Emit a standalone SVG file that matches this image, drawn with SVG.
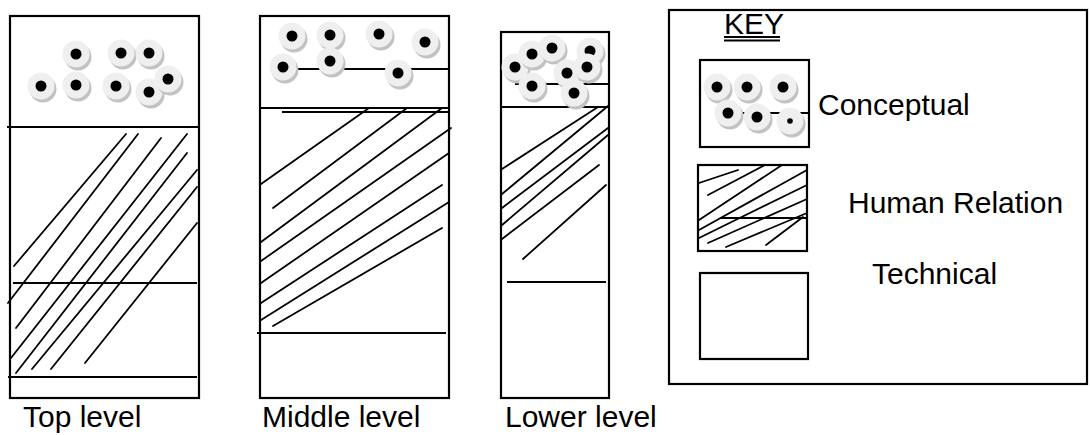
<svg xmlns="http://www.w3.org/2000/svg" width="1090" height="435" viewBox="0 0 1090 435">
  <style>
    .frame { fill: none; stroke: #000; stroke-width: 2.2; }
    .rule { stroke: #000; stroke-width: 1.8; fill: none; }
    .hatch { stroke: #000; stroke-width: 1.8; fill: none; stroke-linecap: round; }
    .label { font-family: "Liberation Sans", Arial, sans-serif; font-size: 30px; fill: #000; }
    .shadow { fill: #c2c2c2; }
    .disc { fill: #efefef; }
    .dot { fill: #000; }
  </style>
  <defs>
    <!-- one "concept" bead: grey shadow, pale disc, black centre -->
    <g id="bead">
      <circle class="shadow" cx="2" cy="3" r="13.5"/>
      <circle class="disc" cx="0" cy="0" r="13.5"/>
      <circle class="dot" cx="0" cy="0" r="5.5"/>
    </g>
    <g id="bead-small">
      <circle class="shadow" cx="2" cy="3" r="13.5"/>
      <circle class="disc" cx="0" cy="0" r="13.5"/>
      <circle class="dot" cx="0" cy="0" r="2.8"/>
    </g>
  </defs>

  <rect width="1090" height="435" fill="#fff"/>

  <!-- Top level column -->
  <g id="top-level">
    <rect class="frame" x="10" y="16" width="189" height="382"/>
    <line class="rule" x1="7" y1="127" x2="199" y2="127"/>
    <line class="rule" x1="13" y1="283" x2="197" y2="283"/>
    <line class="rule" x1="8" y1="377" x2="197" y2="377"/>
    <g class="hatch">
      <line x1="14" y1="266" x2="126" y2="134"/>
      <line x1="8" y1="303" x2="138" y2="134"/>
      <line x1="16" y1="328" x2="161" y2="138"/>
      <line x1="11" y1="358" x2="187" y2="134"/>
      <line x1="16" y1="373" x2="187" y2="153"/>
      <line x1="32" y1="369" x2="197" y2="170"/>
      <line x1="51" y1="369" x2="197" y2="187"/>
      <line x1="85" y1="363" x2="197" y2="223"/>
    </g>
    <use href="#bead" x="76" y="54"/>
    <use href="#bead" x="121" y="53"/>
    <use href="#bead" x="149" y="53"/>
    <use href="#bead" x="41" y="86"/>
    <use href="#bead" x="76" y="85"/>
    <use href="#bead" x="116" y="86"/>
    <use href="#bead" x="149" y="92"/>
    <use href="#bead" x="168" y="79"/>
    <text class="label" x="23" y="427">Top level</text>
  </g>

  <!-- Middle level column -->
  <g id="middle-level">
    <rect class="frame" x="260" y="16" width="189" height="382"/>
    <line class="rule" x1="283" y1="69" x2="449" y2="69"/>
    <line class="rule" x1="260" y1="108" x2="449" y2="108"/>
    <line class="rule" x1="282" y1="112" x2="449" y2="112"/>
    <line class="rule" x1="257" y1="333" x2="446" y2="333"/>
    <g class="hatch">
      <line x1="261" y1="184" x2="369" y2="108"/>
      <line x1="273" y1="208" x2="407" y2="108"/>
      <line x1="261" y1="242" x2="442" y2="108"/>
      <line x1="261" y1="261" x2="451" y2="128"/>
      <line x1="261" y1="283" x2="449" y2="153"/>
      <line x1="261" y1="303" x2="442" y2="185"/>
      <line x1="261" y1="320" x2="449" y2="202"/>
      <line x1="273" y1="326" x2="442" y2="228"/>
    </g>
    <use href="#bead" x="292" y="36"/>
    <use href="#bead" x="330" y="35"/>
    <use href="#bead" x="379" y="34"/>
    <use href="#bead" x="425" y="42"/>
    <use href="#bead" x="283" y="67"/>
    <use href="#bead" x="330" y="61"/>
    <use href="#bead" x="398" y="73"/>
    <text class="label" x="262" y="427">Middle level</text>
  </g>

  <!-- Lower level column -->
  <g id="lower-level">
    <rect class="frame" x="501" y="32" width="108" height="366"/>
    <line class="rule" x1="515" y1="84" x2="609" y2="84"/>
    <line class="rule" x1="501" y1="107" x2="609" y2="107"/>
    <line class="rule" x1="507" y1="282" x2="606" y2="282"/>
    <g class="hatch">
      <line x1="502" y1="169" x2="598" y2="107"/>
      <line x1="502" y1="194" x2="608" y2="106"/>
      <line x1="502" y1="208" x2="608" y2="128"/>
      <line x1="502" y1="225" x2="608" y2="135"/>
      <line x1="502" y1="239" x2="599" y2="165"/>
      <line x1="523" y1="259" x2="606" y2="185"/>
    </g>
    <use href="#bead" x="590" y="51"/>
    <use href="#bead" x="515" y="67"/>
    <use href="#bead" x="532" y="54"/>
    <use href="#bead" x="552" y="48"/>
    <use href="#bead" x="567" y="73"/>
    <use href="#bead" x="587" y="67"/>
    <use href="#bead" x="532" y="86"/>
    <use href="#bead" x="574" y="93"/>
    <text class="label" x="505" y="427">Lower level</text>
  </g>

  <!-- Key panel -->
  <g id="key">
    <rect class="frame" x="669" y="10" width="418" height="374"/>
    <text class="label" x="724" y="34" font-size="29">KEY</text>
    <line class="rule" x1="724" y1="37" x2="780" y2="37" stroke-width="1.6"/>
    <line class="rule" x1="724" y1="40.5" x2="780" y2="40.5" stroke-width="1.6"/>
  </g>

  <g id="key-conceptual">
    <rect class="frame" x="700" y="60" width="109" height="87"/>
    <line class="rule" x1="740" y1="113" x2="809" y2="113"/>
    <use href="#bead" x="717" y="87"/>
    <use href="#bead" x="747" y="87"/>
    <use href="#bead" x="783" y="87"/>
    <use href="#bead" x="728" y="113"/>
    <use href="#bead" x="757" y="117"/>
    <use href="#bead-small" x="790" y="121"/>
    <text class="label" x="818" y="115">Conceptual</text>
  </g>

  <g id="key-human-relation">
    <rect class="frame" x="698" y="165" width="109" height="86"/>
    <line class="rule" x1="720" y1="218" x2="807" y2="218"/>
    <g class="hatch">
      <line x1="699" y1="183" x2="738" y2="170"/>
      <line x1="708" y1="195" x2="765" y2="165"/>
      <line x1="699" y1="220" x2="782" y2="165"/>
      <line x1="699" y1="230" x2="807" y2="170"/>
      <line x1="699" y1="238" x2="807" y2="185"/>
      <line x1="708" y1="243" x2="807" y2="199"/>
      <line x1="726" y1="247" x2="807" y2="213"/>
      <line x1="766" y1="245" x2="803" y2="217"/>
    </g>
    <text class="label" x="848" y="213">Human Relation</text>
  </g>

  <g id="key-technical">
    <rect class="frame" x="700" y="273" width="108" height="86"/>
    <text class="label" x="872" y="284">Technical</text>
  </g>

  <!-- no connectors in this figure -->
  <g id="connectors"/>
</svg>
